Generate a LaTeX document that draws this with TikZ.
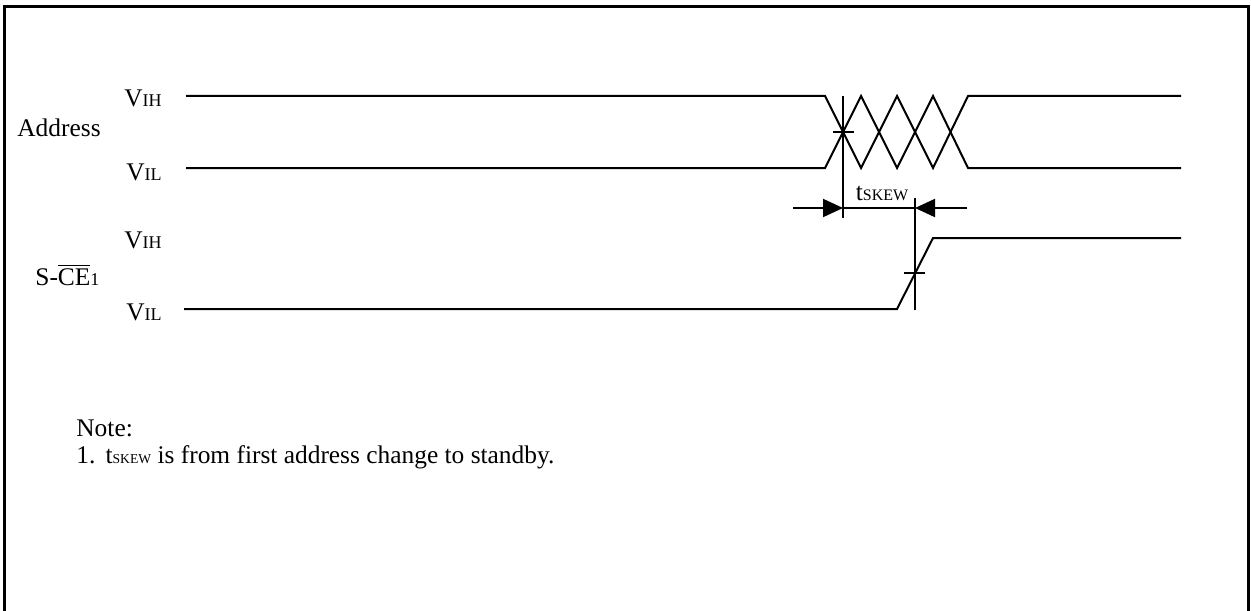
\documentclass[tikz,border=0pt]{standalone}
\usepackage{fontspec}
\setmainfont{Liberation Serif}
\usetikzlibrary{arrows.meta}
\newcommand\smtxt[1]{{\fontsize{9}{10}\selectfont #1}}
\newcommand\smlbl[1]{{\fontsize{8}{9}\selectfont #1}}
\newcommand\smnote[1]{{\fontsize{6.8}{8}\selectfont #1}}
\begin{document}
\begin{tikzpicture}[x=0.5pt,y=-0.5pt,
  sig/.style={line width=1pt, line join=miter},
  lbl/.style={inner sep=0pt, font=\fontsize{12.7}{14}\selectfont},
  tipend/.style={-{Triangle[length=10pt,width=9pt]}}]
\useasboundingbox (0,0) rectangle (1251,610);
\draw[line width=1.5pt] (4.5,615) -- (4.5,6.5) -- (1248.5,6.5) -- (1248.5,615);

% coordinates
\coordinate (aH0) at (186,96);
\coordinate (aH1) at (825,96);
\coordinate (aL0) at (186,168);
\coordinate (aL1) at (825,168);
\coordinate (zb1) at (861,168);
\coordinate (zt1) at (861,96);
\coordinate (zb2) at (897,168);
\coordinate (zt2) at (897,96);
\coordinate (zb3) at (933,168);
\coordinate (zt3) at (933,96);
\coordinate (aH2) at (968,96);
\coordinate (aL2) at (968,168);
\coordinate (aH3) at (1181,96);
\coordinate (aL3) at (1181,168);

\coordinate (v1t) at (843,96);
\coordinate (v1b) at (843,218);
\coordinate (k1l) at (833,132);
\coordinate (k1r) at (854,132);

\coordinate (arL) at (793,208);
\coordinate (arP1) at (843,208);
\coordinate (arP2) at (915,208);
\coordinate (arR) at (967,208);

\coordinate (v2t) at (915,198);
\coordinate (v2b) at (915,310);
\coordinate (k2l) at (904,273);
\coordinate (k2r) at (925,273);

\coordinate (cL0) at (184,309);
\coordinate (cL1) at (897,309);
\coordinate (cH1) at (933,238);
\coordinate (cH2) at (1181,238);

% address signal
\draw[sig] (aH0) -- (aH1) -- (zb1) -- (zt2) -- (zb3) -- (aH2) -- (aH3);
\draw[sig] (aL0) -- (aL1) -- (zt1) -- (zb2) -- (zt3) -- (aL2) -- (aL3);
\draw[sig] (v1t) -- (v1b);
\draw[sig] (k1l) -- (k1r);

% skew arrows
\draw[sig] (arP1) -- (arP2);
\draw[sig,tipend] (arL) -- (arP1);
\draw[sig,tipend] (arR) -- (arP2);

% CE signal
\draw[sig] (cL0) -- (cL1) -- (cH1) -- (cH2);
\draw[sig] (v2t) -- (v2b);
\draw[sig] (k2l) -- (k2r);

% labels
\node[lbl,anchor=base west] (addr) at (17,136) {Address};
\node[lbl,anchor=base east] (vih1) at (162,106) {V\smtxt{IH}};
\node[lbl,anchor=base east] (vil1) at (162,180) {V\smtxt{IL}};
\node[lbl,anchor=base east] (vih2) at (162,248) {V\smtxt{IH}};
\node[lbl,anchor=base east] (vil2) at (162,320) {V\smtxt{IL}};
\node[lbl,anchor=base west] (ce) at (35,285) {S-$\overline{\mbox{CE}}$\smtxt{1}};
\node[lbl,anchor=base] (tskew) at (882,200) {t\smlbl{SKEW}};
\node[lbl,anchor=base west] (note) at (76,436) {Note:};
\node[lbl,anchor=base west] (note1) at (76,463) {1.\hspace{0.4em}t\smnote{SKEW} is from first address change to standby.};
\end{tikzpicture}
\end{document}
